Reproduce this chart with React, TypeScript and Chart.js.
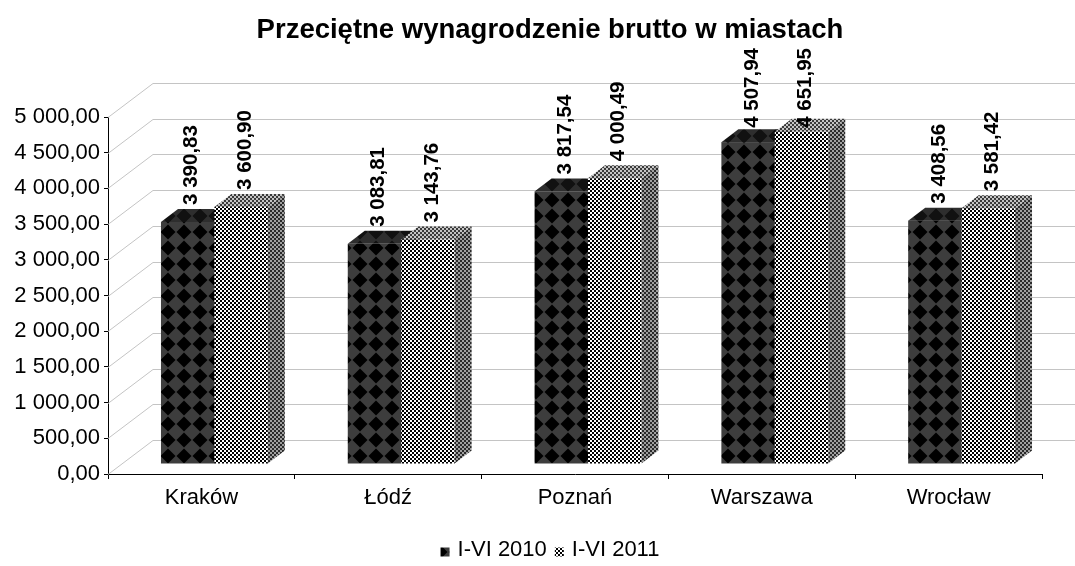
import React, { useEffect, useRef } from 'react';
import { Chart, registerables } from 'chart.js';

Chart.register(...registerables);

const categories = ['Kraków', 'Łódź', 'Poznań', 'Warszawa', 'Wrocław'];
const values2010 = [3390.83, 3083.81, 3817.54, 4507.94, 3408.56];
const values2011 = [3600.9, 3143.76, 4000.49, 4651.95, 3581.42];
const seriesNames = ['I-VI 2010', 'I-VI 2011'];
const titleText = 'Przeciętne wynagrodzenie brutto w miastach';
const yMin = 0;
const yMax = 5000;
const yStep = 500;

const FONT = '"Liberation Sans", Arial, sans-serif';

// 3D geometry (styles)
const WALL_DX = 45;
const WALL_DY = -34;
const BAR_OX = 13;
const BAR_OY = -10;
const BAR_DX = 17;
const BAR_DY = -13;

function fmt(v: number): string {
  const s = v.toFixed(2);
  const [i, d] = s.split('.');
  return i.replace(/\B(?=(\d{3})+(?!\d))/g, ' ') + ',' + d;
}

function makeDiamond(bg: string, fg: string, size: number): CanvasPattern | string {
  const c = document.createElement('canvas');
  c.width = size;
  c.height = size;
  const g = c.getContext('2d');
  if (!g) return bg;
  g.fillStyle = bg;
  g.fillRect(0, 0, size, size);
  g.fillStyle = fg;
  const h = size / 2;
  g.beginPath();
  g.moveTo(h, 0.5);
  g.lineTo(size - 0.5, h);
  g.lineTo(h, size - 0.5);
  g.lineTo(0.5, h);
  g.closePath();
  g.fill();
  const p = g.createPattern(c, 'repeat');
  return p || bg;
}

function makeChecker(a: string, b: string, cell: number): CanvasPattern | string {
  const c = document.createElement('canvas');
  c.width = cell * 2;
  c.height = cell * 2;
  const g = c.getContext('2d');
  if (!g) return a;
  g.fillStyle = b;
  g.fillRect(0, 0, cell * 2, cell * 2);
  g.fillStyle = a;
  g.fillRect(0, 0, cell, cell);
  g.fillRect(cell, cell, cell, cell);
  const p = g.createPattern(c, 'repeat');
  return p || a;
}

export default function App() {
  const ref = useRef<HTMLCanvasElement | null>(null);

  useEffect(() => {
    const canvas = ref.current;
    if (!canvas) return;

    const darkFront = makeDiamond('#3d3d3d', '#000000', 16);
    const darkTop = makeDiamond('#2e2e2e', '#111111', 16);
    const darkSide = makeDiamond('#222222', '#000000', 16);
    const chkFront = makeChecker('#000000', '#ffffff', 2);
    const chkTop = makeChecker('#3a3a3a', '#c4c4c4', 2);
    const chkSide = makeChecker('#2a2a2a', '#a0a0a0', 2);

    const faces = [
      { front: darkFront, top: darkTop, side: darkSide },
      { front: chkFront, top: chkTop, side: chkSide },
    ];

    const plugin3d = {
      id: 'bars3d',
      beforeDatasetsDraw(chart: any) {
        const ctx: CanvasRenderingContext2D = chart.ctx;
        const area = chart.chartArea;
        const yScale = chart.scales.y;
        // back wall grid lines
        ctx.save();
        ctx.strokeStyle = '#c4c4c4';
        ctx.lineWidth = 1;
        for (let v = yMin; v <= yMax + 0.001; v += yStep) {
          const y = Math.round(yScale.getPixelForValue(v)) + 0.5;
          ctx.beginPath();
          ctx.moveTo(area.left, y);
          ctx.lineTo(area.left + WALL_DX, y + WALL_DY);
          ctx.lineTo(chart.width, y + WALL_DY);
          ctx.stroke();
        }
        ctx.restore();

        const poly = (pts: number[][], fill: any) => {
          ctx.beginPath();
          ctx.moveTo(pts[0][0], pts[0][1]);
          for (let k = 1; k < pts.length; k++) ctx.lineTo(pts[k][0], pts[k][1]);
          ctx.closePath();
          ctx.fillStyle = fill;
          ctx.fill();
        };

        const metas = [chart.getDatasetMeta(0), chart.getDatasetMeta(1)];
        const n = categories.length;
        ctx.save();
        for (let i = 0; i < n; i++) {
          for (let d = 0; d < 2; d++) {
            const el: any = metas[d].data[i];
            const p = el.getProps(['x', 'y', 'base', 'width'], true);
            const L = p.x - p.width / 2 + BAR_OX;
            const R = p.x + p.width / 2 + BAR_OX;
            const T = p.y + BAR_OY;
            const B = p.base + BAR_OY;
            ctx.fillStyle = faces[d].front;
            ctx.fillRect(L, T, R - L, B - T);
            poly([[L, T], [R, T], [R + BAR_DX, T + BAR_DY], [L + BAR_DX, T + BAR_DY]], faces[d].top);
            poly([[R, T], [R + BAR_DX, T + BAR_DY], [R + BAR_DX, B + BAR_DY], [R, B]], faces[d].side);
          }
        }
        // value labels
        ctx.fillStyle = '#000';
        ctx.font = `bold 20.5px ${FONT}`;
        ctx.textAlign = 'left';
        ctx.textBaseline = 'middle';
        const labelTopLimit = area.top - 69;
        for (let i = 0; i < n; i++) {
          for (let d = 0; d < 2; d++) {
            const el: any = metas[d].data[i];
            const p = el.getProps(['x', 'y', 'base', 'width'], true);
            const data = d === 0 ? values2010 : values2011;
            const txt = fmt(data[i]);
            const w = ctx.measureText(txt).width;
            let start = p.y + BAR_OY + BAR_DY - 4;
            if (start - w < labelTopLimit) start = labelTopLimit + w;
            ctx.save();
            ctx.translate(p.x + BAR_OX + 4, start);
            ctx.rotate(-Math.PI / 2);
            ctx.fillText(txt, 0, 0);
            ctx.restore();
          }
        }
        ctx.restore();
        return false;
      },
      afterDraw(chart: any) {
        const ctx: CanvasRenderingContext2D = chart.ctx;
        ctx.save();
        // title
        ctx.fillStyle = '#000';
        ctx.font = `bold 27.5px ${FONT}`;
        ctx.textAlign = 'center';
        ctx.textBaseline = 'middle';
        ctx.fillText(titleText, 550, 30);
        // legend
        ctx.font = `22px ${FONT}`;
        ctx.textBaseline = 'middle';
        ctx.textAlign = 'left';
        const box = 9;
        const gap = 8;
        const spacing = 8;
        const widths = seriesNames.map((s) => ctx.measureText(s).width);
        const total = widths.reduce((a, w) => a + box + gap + w, 0) + spacing * (seriesNames.length - 1);
        let x = 550 - total / 2;
        const y = 550;
        seriesNames.forEach((s, k) => {
          ctx.fillStyle = faces[k].front as any;
          ctx.fillRect(x, y - box / 2 + 2, box, box);
          x += box + gap;
          ctx.fillStyle = '#000';
          ctx.fillText(s, x, y);
          x += widths[k] + spacing;
        });
        ctx.restore();
      },
    };

    const chart = new Chart(canvas, {
      type: 'bar',
      data: {
        labels: categories,
        datasets: [
          { label: seriesNames[0], data: values2010, backgroundColor: darkFront as any, borderWidth: 0 },
          { label: seriesNames[1], data: values2011, backgroundColor: chkFront as any, borderWidth: 0 },
        ],
      },
      options: {
        responsive: false,
        animation: false,
        events: [],
        layout: { padding: { left: 0, right: 33, top: 117, bottom: 0 } },
        datasets: {
          bar: { barPercentage: 1, categoryPercentage: 0.572 },
        },
        plugins: {
          legend: { display: false },
          tooltip: { enabled: false },
          title: { display: false },
        },
        scales: {
          x: {
            type: 'category',
            offset: true,
            grid: { drawOnChartArea: false, drawTicks: true, tickLength: 5, color: '#000', offset: true },
            border: { display: true, color: '#000', width: 1 },
            ticks: { color: '#000', font: { family: FONT, size: 22 }, padding: 6 },
            afterFit: (s: any) => {
              s.height = 92;
            },
          },
          y: {
            type: 'linear',
            min: yMin,
            max: yMax,
            grid: { drawOnChartArea: false, drawTicks: true, tickLength: 4, color: '#000' },
            border: { display: true, color: '#000', width: 1 },
            ticks: {
              stepSize: yStep,
              color: '#000',
              font: { family: FONT, size: 22 },
              padding: 4,
              callback: (v: any) => fmt(Number(v)),
            },
            afterFit: (s: any) => {
              s.width = 108;
            },
          },
        },
      },
      plugins: [plugin3d],
    } as any);

    return () => {
      chart.destroy();
    };
  }, []);

  return (
    <div style={{ position: 'absolute', left: 0, top: 0, width: 1075, height: 566, background: '#fff' }}>
      <canvas ref={ref} width={1075} height={566} />
    </div>
  );
}
